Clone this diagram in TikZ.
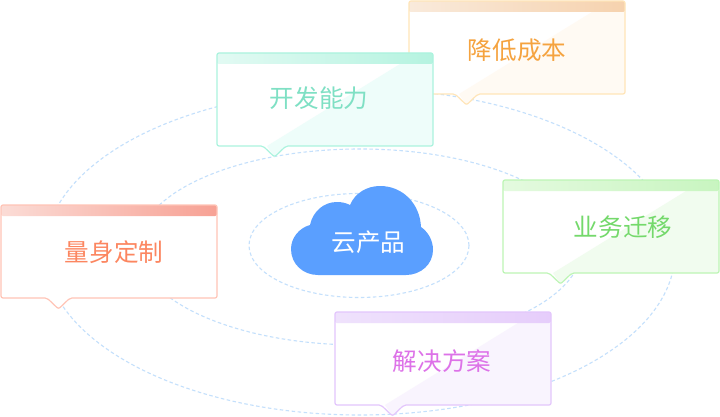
\documentclass[tikz,border=0pt]{standalone}
\usepackage{fontspec}
\newfontfamily\cjk{Noto Sans CJK SC}
\definecolor{ringc}{HTML}{C4E0FC}
\definecolor{cloudc}{HTML}{5A9FFF}
\definecolor{obd}{HTML}{FFE5B8}\definecolor{ohl}{HTML}{F9EADB}\definecolor{ohr}{HTML}{F6D2AE}\definecolor{otr}{HTML}{FFFAF3}\definecolor{otx}{HTML}{F5A33F}
\definecolor{tbd}{HTML}{ABF3DE}\definecolor{thl}{HTML}{E2FAF3}\definecolor{thr}{HTML}{B5F3E0}\definecolor{ttr}{HTML}{EEFDFA}\definecolor{ttx}{HTML}{7FE0C4}
\definecolor{rbd}{HTML}{FFC4B6}\definecolor{rhl}{HTML}{FBDCD6}\definecolor{rhr}{HTML}{F7A194}\definecolor{rtx}{HTML}{FC8660}
\definecolor{gbd}{HTML}{BDF5B5}\definecolor{ghl}{HTML}{E4FADF}\definecolor{ghr}{HTML}{C8F5C0}\definecolor{gtr}{HTML}{F1FCEF}\definecolor{gtx}{HTML}{74D96B}
\definecolor{pbd}{HTML}{E3C6FC}\definecolor{phl}{HTML}{EFE2FC}\definecolor{phr}{HTML}{E6CDFB}\definecolor{ptr}{HTML}{F9F4FE}\definecolor{ptx}{HTML}{DD72E8}
\tikzset{
  ring/.style={draw=ringc,line width=1.1pt,dash pattern=on 3.5pt off 2.5pt},
  label/.style={font=\cjk\fontsize{24.6}{25}\selectfont,inner sep=0pt},
}
% name, corner, border, header left, header right, triangle, text colour, text position, text
\newcommand{\bubble}[9]{%
  \begin{scope}[shift={(#2)}]
    \fill[white,rounded corners=2pt] (0,0) -- (216,0) -- (216,93) -- (69,93) -- (57.5,104) -- (46,93) -- (0,93) -- cycle;
    \fill[#6] (50,93) -- (183,11) -- (216,11) -- (216,93) -- (69,93) -- (57.5,104) -- cycle;
    \shade[left color=#4,right color=#5,rounded corners=2pt] (0,11) -- (0,0) -- (216,0) -- (216,11) -- cycle;
    \draw[#3,line width=1.2pt,line join=round,rounded corners=2pt] (0,0) -- (216,0) -- (216,93) -- (69,93) -- (57.5,104) -- (46,93) -- (0,93) -- cycle;
  \end{scope}
  \node[label,text=#7] (#1) at (#8) {#9};
}
\begin{document}
\begin{tikzpicture}[x=1pt,y=-1pt]
\useasboundingbox (0,0) rectangle (720,417);
\fill[white] (0,0) rectangle (720,417);
\draw[ring] (360,252) ellipse [x radius=315,y radius=163];
\draw[ring] (360,247) ellipse [x radius=222,y radius=98];
\draw[ring] (359,245.5) ellipse [x radius=110,y radius=52];
\fill[cloudc] (318,275) .. controls (303,275) and (291,264) .. (291,249)
  .. controls (291,238) and (299,228) .. (310,225)
  .. controls (313,211) and (324,202) .. (337,202)
  .. controls (342,202) and (346,203) .. (350,205)
  .. controls (355,193) and (367,186) .. (380,186)
  .. controls (403,186) and (420,204) .. (421,227)
  .. controls (428,232) and (433,240) .. (433,250)
  .. controls (433,264) and (421,275) .. (406,275) -- cycle;
\node[label,text=white] (cloud) at (368.5,242) {云产品};
\bubble{cost}{409,1}{obd}{ohl}{ohr}{otr}{otx}{517,50}{降低成本}
\bubble{dev}{217,53}{tbd}{thl}{thr}{ttr}{ttx}{319,98}{开发能力}
\bubble{custom}{1,205}{rbd}{rhl}{rhr}{white}{rtx}{114,252}{量身定制}
\bubble{move}{503,180}{gbd}{ghl}{ghr}{gtr}{gtx}{623,227}{业务迁移}
\bubble{solve}{335,312}{pbd}{phl}{phr}{ptr}{ptx}{442,361}{解决方案}
\end{tikzpicture}
\end{document}
